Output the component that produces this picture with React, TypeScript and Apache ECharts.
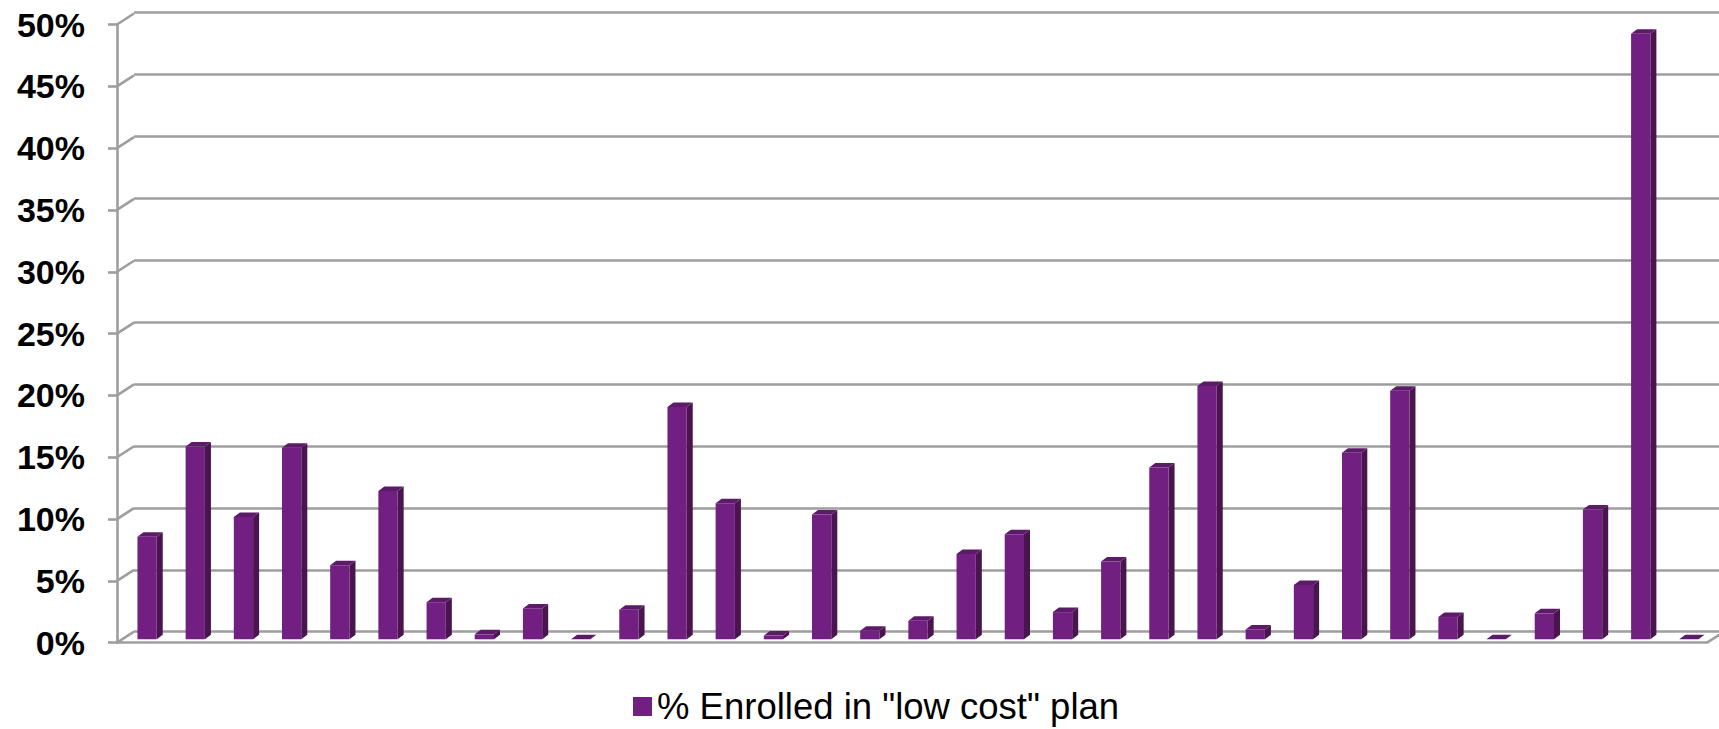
import React, { useEffect, useRef } from "react";
import * as echarts from "echarts";

// Plan sites along the horizontal axis (unlabelled in the chart)
const categories = [
  "1", "2", "3", "4", "5", "6", "7", "8", "9", "10", "11",
  "12", "13", "14", "15", "16", "17", "18", "19", "20", "21", "22",
  "23", "24", "25", "26", "27", "28", "29", "30", "31", "32", "33",
];

// Share of members enrolled in the "low cost" plan, in percent
const lowCostShare = [
  8.3, 15.6, 9.9, 15.5, 6.0, 12.0, 3.0, 0.4, 2.5, 0.0, 2.4,
  18.8, 11.0, 0.3, 10.1, 0.7, 1.5, 6.9, 8.5, 2.2, 6.3, 13.9,
  20.5, 0.8, 4.4, 15.1, 20.1, 1.8, 0.0, 2.1, 10.5, 49.0, 0.0,
];

// Value-axis ticks (percent)
const yTicks = [0, 5, 10, 15, 20, 25, 30, 35, 40, 45, 50];

const SERIES_NAME = '% Enrolled in "low cost" plan';
const FRONT = "#711F80";
const SIDE = "#4A154F";
const TOP = "#5D1A69";
const GRID_GRAY = "#9e9e9e";
const DEPTH_X = 17;
const DEPTH_Y = 11;

export default function App() {
  const ref = useRef<HTMLDivElement>(null);

  useEffect(() => {
    document.body.style.margin = "0";
    if (!ref.current) return;
    const chart = echarts.init(ref.current, null, { renderer: "svg" });

    const option: any = {
      animation: false,
      backgroundColor: "#ffffff",
      grid: [
        // back wall
        { left: 134, right: 0, top: 12.5, bottom: 97.3 },
        // front plane (axis line, labels, floor edge)
        { left: 117, right: 12, top: 24.5, bottom: 86.3 },
        // bars, half-way into the depth
        { left: 123, right: 6, top: 21.3, bottom: 89.7 },
      ],
      xAxis: [
        {
          gridIndex: 0,
          type: "category",
          data: categories,
          show: false,
        },
        {
          gridIndex: 1,
          type: "category",
          data: categories,
          axisLine: { show: true, lineStyle: { color: GRID_GRAY, width: 2.6 } },
          axisTick: { show: false },
          axisLabel: { show: false },
        },
        {
          gridIndex: 2,
          type: "category",
          data: categories,
          show: false,
        },
      ],
      yAxis: [
        {
          gridIndex: 0,
          type: "value",
          min: 0,
          max: 50,
          interval: 5,
          axisLine: { show: false },
          axisTick: { show: false },
          axisLabel: { show: false },
          splitLine: { show: true, lineStyle: { color: GRID_GRAY, width: 2.6 } },
        },
        {
          gridIndex: 1,
          type: "value",
          min: 0,
          max: 50,
          interval: 5,
          axisLine: { show: true, lineStyle: { color: GRID_GRAY, width: 2.6 } },
          axisTick: {
            show: true,
            length: 9,
            lineStyle: { color: GRID_GRAY, width: 2.6 },
          },
          splitLine: { show: false },
          axisLabel: {
            margin: 32,
            formatter: "{value}%",
            color: "#000000",
            fontSize: 34,
            fontWeight: "bold",
            fontFamily: "Liberation Sans, Arial, sans-serif",
          },
        },
        {
          gridIndex: 2,
          type: "value",
          min: 0,
          max: 50,
          interval: 5,
          show: false,
        },
      ],
      legend: {
        left: 633,
        top: 688,
        padding: 0,
        icon: "rect",
        itemWidth: 19,
        itemHeight: 19,
        itemGap: 6,
        data: [{ name: SERIES_NAME, itemStyle: { color: FRONT } }],
        textStyle: {
          color: "#000000",
          fontSize: 36.5,
          lineHeight: 30,
          fontFamily: "Liberation Sans, Arial, sans-serif",
        },
      },
      series: [
        {
          // depth connectors between front axis and back wall
          type: "custom",
          xAxisIndex: 1,
          yAxisIndex: 1,
          silent: true,
          data: yTicks.map((v) => [0, v]),
          renderItem: (params: any, api: any) => {
            const cs = params.coordSys;
            const y = api.coord([0, api.value(1)])[1];
            const children: any[] = [
              {
                type: "line",
                shape: { x1: cs.x, y1: y, x2: cs.x + DEPTH_X, y2: y - DEPTH_Y },
                style: { stroke: GRID_GRAY, lineWidth: 2.6 },
              },
            ];
            if (api.value(1) === 0) {
              const xr = cs.x + cs.width;
              children.push({
                type: "line",
                shape: { x1: xr, y1: y, x2: xr + DEPTH_X, y2: y - DEPTH_Y },
                style: { stroke: GRID_GRAY, lineWidth: 2.6 },
              });
            }
            return { type: "group", children };
          },
          z: 1,
        },
        {
          name: SERIES_NAME,
          type: "custom",
          xAxisIndex: 2,
          yAxisIndex: 2,
          itemStyle: { color: FRONT },
          data: lowCostShare.map((v, i) => [categories[i], v]),
          renderItem: (params: any, api: any) => {
            const idx = api.value(0);
            const v = api.value(1);
            const top = api.coord([idx, v]);
            const base = api.coord([idx, 0]);
            const band = api.size([1, 0])[0];
            const w = band * 0.4;
            const dx = band * 0.125;
            const dy = 4.5;
            const x0 = top[0] - w / 2;
            const x1 = top[0] + w / 2;
            const yt = top[1];
            const yb = base[1];
            return {
              type: "group",
              children: [
                {
                  type: "polygon",
                  shape: {
                    points: [
                      [x1, yt],
                      [x1 + dx, yt - dy],
                      [x1 + dx, yb - dy],
                      [x1, yb],
                    ],
                  },
                  style: { fill: SIDE },
                },
                {
                  type: "polygon",
                  shape: {
                    points: [
                      [x0, yt],
                      [x0 + dx, yt - dy],
                      [x1 + dx, yt - dy],
                      [x1, yt],
                    ],
                  },
                  style: { fill: TOP },
                },
                {
                  type: "rect",
                  shape: { x: x0, y: yt, width: w, height: yb - yt },
                  style: { fill: FRONT },
                },
              ],
            };
          },
          z: 2,
        },
      ],
    };

    chart.setOption(option);
    return () => chart.dispose();
  }, []);

  return <div ref={ref} style={{ width: 1719, height: 729 }} />;
}
